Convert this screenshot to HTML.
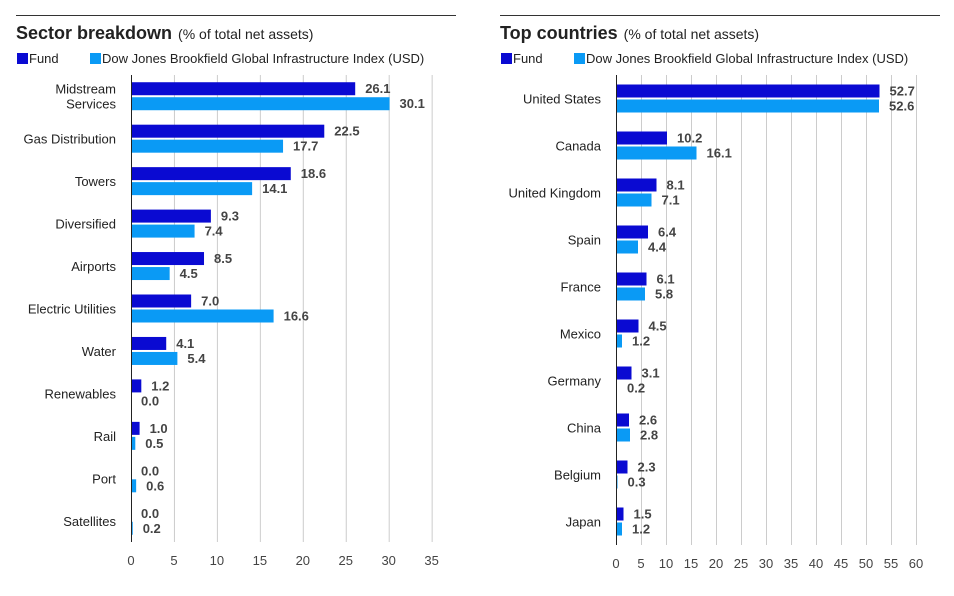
<!DOCTYPE html>
<html><head><meta charset="utf-8"><style>
body{margin:0;background:#fff;width:954px;height:596px;overflow:hidden;font-family:"Liberation Sans",Arial,sans-serif}
svg{position:absolute;left:0;top:0}
</style></head><body>
<svg id="c" width="954" height="596"></svg>
<script>
const sectorCats=["Midstream|Services","Gas Distribution","Towers","Diversified","Airports","Electric Utilities","Water","Renewables","Rail","Port","Satellites"];
const sectorFund=[26.1,22.5,18.6,9.3,8.5,7.0,4.1,1.2,1.0,0.0,0.0];
const sectorIndex=[30.1,17.7,14.1,7.4,4.5,16.6,5.4,0.0,0.5,0.6,0.2];
const sectorTicks=[0,5,10,15,20,25,30,35];
const countryCats=["United States","Canada","United Kingdom","Spain","France","Mexico","Germany","China","Belgium","Japan"];
const countryFund=[52.7,10.2,8.1,6.4,6.1,4.5,3.1,2.6,2.3,1.5];
const countryIndex=[52.6,16.1,7.1,4.4,5.8,1.2,0.2,2.8,0.3,1.2];
const countryTicks=[0,5,10,15,20,25,30,35,40,45,50,55,60];
const NS="http://www.w3.org/2000/svg";
const svg=document.getElementById('c');
function mk(tag,attrs,parent,text){const e=document.createElementNS(NS,tag);for(const k in attrs)e.setAttribute(k,attrs[k]);if(text!==undefined)e.textContent=text;(parent||svg).appendChild(e);return e;}
function chart(o){
  const g=mk('g',{});
  
  
  const rule=mk('line',{x1:o.left,x2:o.right,y1:15.5,y2:15.5,stroke:'#333','stroke-width':1},g);
  
  
  const t=mk('text',{x:o.left,y:39,'font-size':18,'font-weight':'bold',fill:'#222'},g);
  
  
  mk('tspan',{},t,o.title);
  mk('tspan',{'font-size':14,'font-weight':'normal',dx:6},t,'(% of total net assets)');
  const l1=mk('rect',{x:o.left+1,y:53,width:11,height:11,fill:'#0a0ad2'},g);
  
  
  const lt1=mk('text',{x:o.left+13,y:63,'font-size':13,fill:'#222'},g,'Fund');
  
  
  const l2=mk('rect',{x:o.left+74,y:53,width:11,height:11,fill:'#0a9af5'},g);
  
  
  const lt2=mk('text',{x:o.left+86,y:63,'font-size':13,fill:'#222'},g,'Dow Jones Brookfield Global Infrastructure Index (USD)');
  
  
  const x=v=>o.x0+v*o.scale;
  o.ticks.forEach(v=>{
    if(v>0){const gl=mk('line',{x1:x(v)+.5,x2:x(v)+.5,y1:o.top,y2:o.bottom,stroke:'#ccc'},g);
    
    }
    const tl=mk('text',{x:x(v),y:o.bottom+23,'font-size':13,fill:'#444','text-anchor':'middle'},g,String(v));
    
    
  });
  const n=o.cats.length,band=(o.bottom-o.top)/n;
  o.cats.forEach((c,i)=>{
    const cy=o.top+band*(i+.5);
    const parts=c.split('|');
    const cl=mk('text',{x:o.x0-15,y:0,'font-size':13,fill:'#222','text-anchor':'end'},g);
    
    
    parts.forEach((p,j)=>mk('tspan',{x:o.x0-15,y:cy+5+(j-(parts.length-1)/2)*15},cl,p));
    [[o.fund,'#0a0ad2',cy-14,'fund'],[o.index,'#0a9af5',cy+1,'index']].forEach(([arr,col,y,nm])=>{
      const v=arr[i];
      const b=mk('rect',{x:o.x0,y:y,width:Math.max(v*o.scale,0),height:13,fill:col},g);
      
      
      const vl=mk('text',{x:x(v)+10,y:y+11,'font-size':13,'font-weight':'bold',fill:'#444'},g,v.toFixed(1));
      
      
    });
  });
  const ax=mk('line',{x1:o.x0+.5,x2:o.x0+.5,y1:o.top,y2:o.bottom,stroke:'#222'},g);
  
  
}
chart({name:'sector-chart',title:'Sector breakdown',left:16,right:456,x0:131,scale:8.59,top:75,bottom:542,ticks:sectorTicks,cats:sectorCats,fund:sectorFund,index:sectorIndex});
chart({name:'country-chart',title:'Top countries',left:500,right:940,x0:616,scale:5,top:75,bottom:545,ticks:countryTicks,cats:countryCats,fund:countryFund,index:countryIndex});
</script>
</body></html>
